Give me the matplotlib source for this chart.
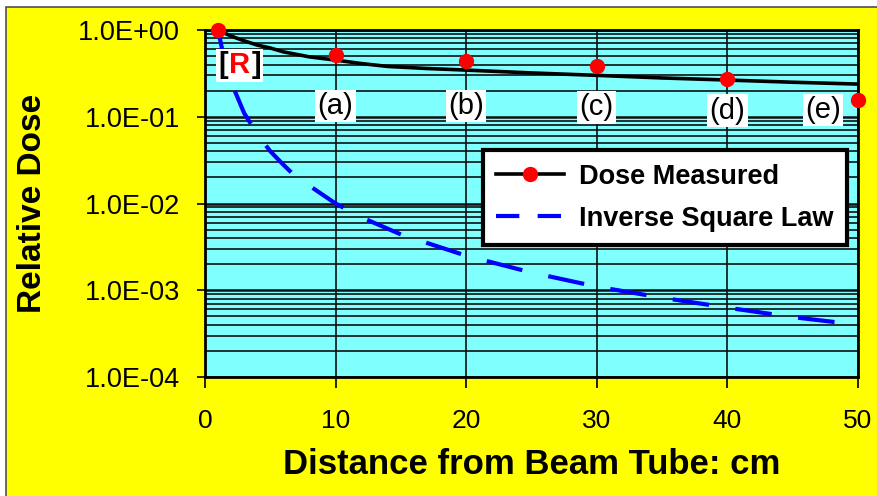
"""Relative dose versus distance from the beam tube, measured against the inverse square law."""

import matplotlib

matplotlib.use("Agg")

import matplotlib.pyplot as plt
from matplotlib.offsetbox import AnnotationBbox, HPacker, TextArea
from matplotlib.patches import Rectangle
from matplotlib.ticker import FixedLocator, LogLocator, NullFormatter


MEASURED_CM = [1, 10, 20, 30, 40, 50]
MEASURED_DOSE = [1.0, 0.52, 0.44, 0.38, 0.27, 0.155]
CURVE_CM = [1, 2, 3, 4, 5, 6, 8, 10, 12, 14, 17, 20, 25, 30, 35, 40, 45, 50]
CURVE_DOSE = [1.0, 0.85, 0.75, 0.67, 0.62, 0.56, 0.49, 0.45, 0.41, 0.38, 0.36, 0.345, 0.32, 0.30, 0.28, 0.265, 0.25, 0.238]
INVERSE_CM = [1, 1.5, 2, 3, 4, 5, 6, 7, 8, 10, 12, 15, 20, 25, 30, 35, 40, 45, 50]
INVERSE_DOSE = [1.0, 0.44, 0.25, 0.11, 0.063, 0.04, 0.028, 0.02, 0.016, 0.01, 0.0069, 0.0044, 0.0025, 0.0016, 0.0011,
                0.00082, 0.00063, 0.00049, 0.0004]
Y_TICKS = [1e0, 1e-1, 1e-2, 1e-3, 1e-4]
Y_TICK_LABELS = ["1.0E+00", "1.0E-01", "1.0E-02", "1.0E-03", "1.0E-04"]
X_TICKS = [0, 10, 20, 30, 40, 50]
POINT_LABELS = ["(a)", "(b)", "(c)", "(d)", "(e)"]
POINT_LABEL_X = [10, 20, 30, 40, 47.3]
POINT_LABEL_Y = [0.133, 0.133, 0.128, 0.118, 0.12]
REFERENCE_LABEL = ["[", "R", "]"]
REFERENCE_LABEL_COLORS = ["black", "red", "black"]

FONT = "Liberation Sans"
YELLOW = "#FFFF00"
CYAN = "#80FFFF"
DPI = 100


def main():
    """Draws the chart and saves it."""
    plt.rcParams["font.family"] = [FONT, "DejaVu Sans"]
    figure = plt.figure(figsize=(8.77, 4.96), dpi=DPI, facecolor="white")
    figure.patches.append(Rectangle((6 / 877, -0.1), 1.2, 1.1 - 7 / 496, transform=figure.transFigure,
                                    facecolor=YELLOW, edgecolor="#505050", linewidth=1.2, zorder=-10))
    axes = figure.add_axes((205 / 877, 1 - 377 / 496, 653 / 877, 347 / 496))
    axes.set_facecolor(CYAN)
    setup_axes(axes)
    draw_series(axes)
    draw_labels(axes)
    figure.savefig("out.png", dpi=DPI, facecolor="white")


def setup_axes(axes):
    """Sets scales, ticks, grid and axis labels.
    :param axes: Matplotlib axes.
    """
    axes.set_yscale("log")
    axes.set_xlim(0, 50)
    axes.set_ylim(1e-4, 1)
    axes.yaxis.set_major_locator(FixedLocator(Y_TICKS))
    axes.set_yticklabels(Y_TICK_LABELS)
    axes.yaxis.set_minor_locator(LogLocator(base=10, subs=range(2, 10)))
    axes.yaxis.set_minor_formatter(NullFormatter())
    axes.set_xticks(X_TICKS)
    axes.tick_params(axis="y", which="major", direction="out", length=6, width=1.2, pad=12, labelsize=19.5)
    axes.tick_params(axis="x", which="major", direction="out", length=8, width=1.2, pad=15, labelsize=19)
    axes.tick_params(which="minor", length=0)
    axes.grid(True, axis="y", which="major", color="#101010", linewidth=1.8)
    axes.grid(True, axis="y", which="minor", color="#101010", linewidth=1.2)
    axes.grid(True, axis="x", which="major", color="#101010", linewidth=1.2)
    axes.set_axisbelow(True)
    for spine in axes.spines.values():
        spine.set_linewidth(2)
    axes.set_xlabel("Distance from Beam Tube: cm", fontsize=25, fontweight="bold")
    axes.set_ylabel("Relative Dose", fontsize=24, fontweight="bold")
    axes.xaxis.set_label_coords(0.5, -0.205)
    axes.yaxis.set_label_coords(-0.24, 0.5)


def draw_series(axes):
    """Draws the measured dose and the inverse square law lines.
    :param axes: Matplotlib axes.
    """
    curve, = axes.plot(CURVE_CM, CURVE_DOSE, color="black", linewidth=2.6, zorder=3)
    markers, = axes.plot(MEASURED_CM, MEASURED_DOSE, linestyle="none", marker="o", markersize=10, color="red",
                         markeredgecolor="red", clip_on=False, zorder=5)
    inverse, = axes.plot(INVERSE_CM, INVERSE_DOSE, color="#0000FF", linewidth=3, dashes=(8.8, 6.4), zorder=3)
    legend = axes.legend([(curve, markers), inverse], ["Dose Measured", "Inverse Square Law"], loc="upper right",
                         bbox_to_anchor=(0.983, 0.654), borderaxespad=0, fancybox=False, framealpha=1, numpoints=1,
                         handlelength=2.5, handletextpad=0.55, borderpad=0.5, labelspacing=0.6,
                         prop={"family": FONT, "weight": "bold", "size": 19.5})
    legend.get_frame().set_edgecolor("black")
    legend.get_frame().set_linewidth(3)
    legend.legend_handles[1].set_dashes((5.6, 4.4))
    legend.set_zorder(6)


def draw_labels(axes):
    """Draws the point labels and the reference marker.
    :param axes: Matplotlib axes.
    """
    box = {"boxstyle": "square,pad=0.08", "facecolor": "white", "edgecolor": "none"}
    for text, x, y in zip(POINT_LABELS, POINT_LABEL_X, POINT_LABEL_Y):
        axes.text(x, y, text, fontsize=21, ha="center", va="center", bbox=box, zorder=4)
    parts = [TextArea(part, textprops={"fontsize": 21, "fontweight": "bold", "color": color})
             for part, color in zip(REFERENCE_LABEL, REFERENCE_LABEL_COLORS)]
    reference = AnnotationBbox(HPacker(children=parts, pad=0, sep=1), (2.65, 0.39), frameon=True, pad=0.15,
                               box_alignment=(0.5, 0.5), bboxprops={"facecolor": "white", "edgecolor": "none"},
                               zorder=4)
    axes.add_artist(reference)


if __name__ == "__main__":
    main()
